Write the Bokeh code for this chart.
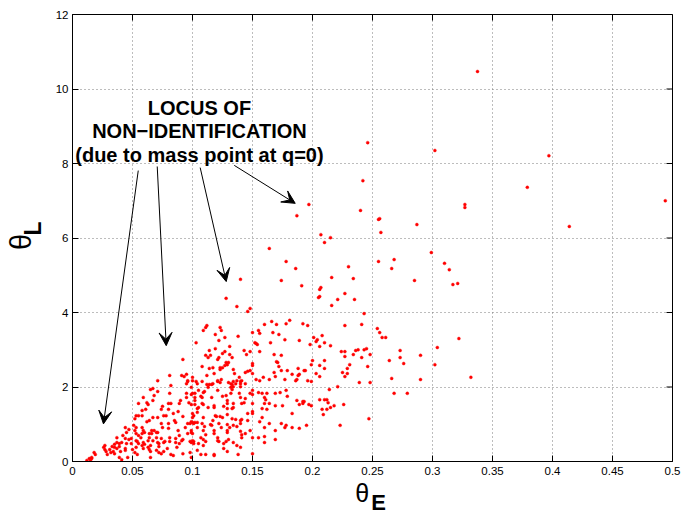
import math
from bokeh.plotting import figure
from bokeh.models import Range1d, FixedTicker, Label, Arrow, VeeHead, LinearAxis
from bokeh.embed import file_html
from bokeh.resources import INLINE

# ---- data ----
theta_e = [
    0.3375, 0.246, 0.302, 0.397, 0.379, 0.414, 0.494, 0.187, 0.164,
    0.242, 0.197, 0.240, 0.255, 0.256, 0.287, 0.327, 0.327, 0.257, 0.207,
    0.215, 0.210, 0.299, 0.255, 0.268, 0.266, 0.310, 0.314, 0.230, 0.317,
    0.321, 0.285, 0.216, 0.234, 0.191, 0.207, 0.206, 0.206, 0.205, 0.227,
    0.221, 0.235, 0.216, 0.243, 0.192, 0.196, 0.227, 0.241, 0.254, 0.256,
    0.258, 0.261, 0.322, 0.304, 0.189, 0.201, 0.204, 0.203, 0.208, 0.206,
    0.198, 0.210, 0.215, 0.224, 0.227, 0.236, 0.238, 0.243, 0.245, 0.248,
    0.241, 0.234, 0.227, 0.273, 0.273, 0.290, 0.264, 0.276, 0.302, 0.200,
    0.199, 0.210, 0.206, 0.231, 0.246, 0.229, 0.210, 0.194, 0.225, 0.229,
    0.189, 0.227, 0.206, 0.196, 0.199, 0.266, 0.290, 0.332, 0.239, 0.248,
    0.221, 0.214, 0.268, 0.279, 0.206, 0.210, 0.212, 0.192, 0.197, 0.213,
    0.226, 0.218, 0.215, 0.208, 0.212, 0.209, 0.247, 0.223, 0.195, 0.189,
    0.128, 0.137, 0.148, 0.146, 0.112, 0.111, 0.109, 0.119, 0.138, 0.150,
    0.103, 0.160, 0.155, 0.156, 0.166, 0.170, 0.178, 0.181, 0.167, 0.172,
    0.165, 0.177, 0.152, 0.154, 0.156, 0.168, 0.174, 0.131, 0.114, 0.111,
    0.115, 0.127, 0.131, 0.122, 0.121, 0.125, 0.143, 0.148, 0.145, 0.133,
    0.092, 0.108, 0.114, 0.123, 0.125, 0.127, 0.129, 0.130, 0.118, 0.134,
    0.135, 0.150, 0.144, 0.146, 0.150, 0.170, 0.171, 0.172, 0.168, 0.169,
    0.174, 0.179, 0.183, 0.188, 0.188, 0.193, 0.186, 0.187, 0.177, 0.164,
    0.159, 0.153, 0.156, 0.139, 0.137, 0.134, 0.132, 0.140, 0.124, 0.121,
    0.108, 0.117, 0.114, 0.100, 0.095, 0.096, 0.091, 0.081, 0.203,
    0.018, 0.019, 0.016, 0.016, 0.014, 0.026, 0.027, 0.028, 0.029, 0.031,
    0.033, 0.034, 0.035, 0.035, 0.037, 0.039, 0.039, 0.041, 0.037, 0.042,
    0.044, 0.040, 0.039, 0.041, 0.044, 0.044, 0.045, 0.047, 0.049, 0.045,
    0.050, 0.049, 0.052, 0.053, 0.051, 0.054, 0.055, 0.057, 0.058, 0.059,
    0.059, 0.058, 0.061, 0.058, 0.063, 0.067, 0.064, 0.066, 0.066, 0.063,
    0.068, 0.070, 0.067, 0.065, 0.070, 0.071, 0.065, 0.072, 0.071, 0.074,
    0.075, 0.074, 0.076, 0.079, 0.078, 0.080, 0.080, 0.080, 0.081, 0.084,
    0.085, 0.086, 0.086, 0.088, 0.088, 0.089, 0.091, 0.094, 0.096, 0.092,
    0.082, 0.089, 0.090, 0.095, 0.097, 0.099, 0.092, 0.098, 0.099, 0.098,
    0.096, 0.095, 0.082, 0.071, 0.068, 0.062, 0.058, 0.055, 0.052, 0.053,
    0.047, 0.055, 0.064, 0.059, 0.063, 0.064, 0.072, 0.077, 0.081, 0.081,
    0.086, 0.070, 0.076, 0.087, 0.089, 0.084, 0.098, 0.101, 0.101, 0.100,
    0.102, 0.100, 0.099,
    0.100, 0.103, 0.112, 0.116, 0.121, 0.123, 0.133, 0.136, 0.140, 0.132,
    0.134, 0.140, 0.102, 0.105, 0.110, 0.107, 0.102, 0.116, 0.125, 0.128,
    0.132, 0.133, 0.139, 0.140, 0.099, 0.102, 0.108, 0.109, 0.104, 0.118,
    0.118, 0.126, 0.129, 0.129, 0.134, 0.133, 0.141, 0.143, 0.104, 0.100,
    0.109, 0.119, 0.120, 0.123, 0.125, 0.129, 0.133, 0.136, 0.140, 0.141,
    0.099, 0.100, 0.102, 0.104, 0.104, 0.110, 0.115, 0.116, 0.122, 0.124,
    0.129, 0.131, 0.137, 0.109, 0.111, 0.100, 0.118, 0.118, 0.129, 0.140,
    0.141, 0.144, 0.109, 0.111, 0.121, 0.122, 0.128, 0.134, 0.099, 0.101,
    0.105, 0.104, 0.126, 0.129, 0.137, 0.140, 0.111, 0.118, 0.138, 0.150,
    0.150, 0.150, 0.150, 0.148, 0.150, 0.155, 0.158, 0.160, 0.162, 0.169,
    0.173, 0.178, 0.179, 0.187, 0.192, 0.193, 0.199, 0.160, 0.164, 0.161,
    0.169, 0.162, 0.158, 0.175, 0.183, 0.158, 0.156, 0.164, 0.160, 0.169,
    0.155, 0.160, 0.169, 0.178, 0.183, 0.189,
    0.178, 0.186, 0.174, 0.140, 0.160, 0.174, 0.177,
    0.071, 0.067, 0.065, 0.059, 0.055, 0.053, 0.044, 0.027, 0.093, 0.104,
    0.109, 0.108, 0.095, 0.082, 0.080, 0.074, 0.076, 0.067, 0.062, 0.058,
    0.060, 0.071, 0.075, 0.064, 0.072, 0.060, 0.053, 0.053, 0.052, 0.035,
    0.037, 0.032, 0.046, 0.054, 0.065, 0.074, 0.099, 0.107, 0.118, 0.126,
    0.130, 0.150, 0.148, 0.146, 0.146, 0.144, 0.150, 0.141, 0.144, 0.148,
    0.150, 0.153, 0.128, 0.123, 0.117, 0.112, 0.127, 0.122, 0.123, 0.124,
    0.119, 0.113, 0.113, 0.121, 0.130, 0.129, 0.134, 0.113, 0.105, 0.101,
    0.108, 0.117, 0.096, 0.099, 0.092, 0.100, 0.107, 0.109, 0.121, 0.129,
    0.134, 0.140, 0.141, 0.012, 0.015,
]
theta_l = [
    10.47, 8.56, 8.35, 8.21, 7.36, 6.31, 7.00, 6.60, 5.72,
    7.54, 6.90, 6.74, 6.50, 6.52, 6.36, 6.90, 6.82, 6.15, 6.09,
    6.01, 5.88, 5.61, 5.37, 5.42, 5.18, 5.32, 5.15, 5.23, 4.75,
    4.78, 4.86, 4.94, 4.91, 4.72, 4.67, 4.62, 4.43, 4.40, 4.51,
    4.35, 4.35, 4.19, 3.97, 3.70, 3.65, 3.65, 3.68, 3.57, 3.46,
    3.33, 3.33, 3.30, 3.06, 3.25, 3.33, 3.27, 3.22, 3.38, 3.09,
    3.14, 3.19, 3.11, 2.95, 2.95, 2.98, 3.00, 3.00, 3.03, 2.87,
    2.79, 2.87, 2.82, 2.98, 2.79, 2.85, 2.71, 2.63, 2.60, 2.71,
    2.60, 2.71, 2.58, 2.60, 2.55, 2.50, 2.50, 2.44, 2.39, 2.36,
    2.34, 2.28, 2.28, 2.17, 2.15, 2.23, 2.20, 2.26, 2.12, 2.12,
    2.01, 1.93, 1.83, 1.83, 1.66, 1.66, 1.66, 1.61, 1.53, 1.58,
    1.53, 1.50, 1.45, 1.40, 1.40, 1.26, 1.15, 0.97, 0.97, 1.53,
    4.38, 4.16, 4.11, 4.03, 3.65, 3.60, 3.52, 3.41, 3.36, 3.46,
    3.19, 3.68, 3.52, 3.44, 3.76, 3.68, 3.70, 3.79, 3.46, 3.41,
    3.19, 3.27, 3.19, 3.14, 2.95, 2.87, 2.85, 3.09, 2.98, 2.85,
    2.85, 2.95, 2.87, 2.79, 2.74, 2.90, 2.98, 2.95, 2.87, 2.79,
    2.74, 2.55, 2.50, 2.47, 2.52, 2.58, 2.60, 2.66, 2.36, 2.47,
    2.36, 2.58, 2.39, 2.42, 2.36, 2.68, 2.66, 2.55, 2.39, 2.28,
    2.44, 2.44, 2.34, 2.31, 2.50, 2.44, 2.17, 2.20, 2.20, 2.20,
    2.26, 2.20, 2.17, 2.26, 2.17, 2.15, 2.09, 2.15, 2.20, 2.17,
    2.15, 2.09, 2.07, 2.26, 2.34, 2.17, 2.31, 2.31, 2.36,
    0.24, 0.19, 0.11, 0.08, 0.08, 0.38, 0.32, 0.27, 0.19, 0.32,
    0.40, 0.27, 0.21, 0.46, 0.51, 0.48, 0.40, 0.51, 0.64, 0.70,
    0.62, 0.27, 0.11, 0.05, 0.35, 0.30, 0.48, 0.59, 0.48, 0.78,
    0.32, 0.62, 0.83, 0.75, 0.97, 0.54, 0.48, 0.64, 0.43, 0.83,
    0.35, 0.91, 1.40, 1.23, 1.53, 1.64, 1.10, 0.83, 0.75, 0.56,
    0.83, 0.78, 0.56, 0.43, 0.64, 0.51, 0.27, 0.24, 1.18, 1.02,
    1.48, 0.62, 0.51, 0.35, 1.23, 1.02, 1.56, 0.89, 1.83, 1.29,
    1.10, 1.05, 0.51, 1.34, 0.83, 0.70, 0.56, 0.91, 0.75, 0.21,
    0.19, 1.56, 1.64, 1.72, 1.58, 1.80, 1.21, 1.02, 0.83, 0.54,
    2.15, 2.09, 2.04, 1.88, 1.77, 1.58, 1.37, 1.23, 1.15, 0.91,
    0.86, 0.70, 0.75, 0.51, 0.38, 0.32, 0.40, 0.54, 0.64, 0.54,
    0.62, 0.30, 0.27, 0.38, 0.48, 0.16, 0.24, 0.54, 1.02, 1.29,
    1.64, 1.83, 1.99,
    2.17, 2.15, 2.07, 2.07, 2.15, 2.12, 2.07, 2.09, 2.09, 1.99,
    2.01, 2.01, 1.83, 1.91, 1.88, 1.75, 1.72, 1.72, 1.75, 1.77,
    1.83, 1.93, 1.83, 1.72, 1.53, 1.53, 1.56, 1.53, 1.42, 1.50,
    1.45, 1.48, 1.56, 1.42, 1.56, 1.42, 1.56, 1.58, 1.32, 1.18,
    1.18, 1.23, 1.21, 1.21, 1.18, 1.26, 1.15, 1.13, 1.10, 1.13,
    1.07, 1.05, 1.05, 1.05, 0.91, 0.94, 0.99, 0.97, 1.02, 0.91,
    0.99, 0.91, 0.94, 0.83, 0.72, 0.75, 0.83, 0.75, 0.78, 0.81,
    0.72, 0.75, 0.59, 0.54, 0.56, 0.54, 0.54, 0.51, 0.51, 0.48,
    0.48, 0.30, 0.35, 0.27, 0.43, 0.38, 0.19, 0.19, 0.19, 0.21,
    1.29, 1.34, 1.56, 1.83, 1.80, 1.85, 1.83, 1.72, 1.83, 1.83,
    1.85, 1.91, 1.75, 1.64, 1.56, 1.61, 1.50, 1.56, 1.56, 1.66,
    1.50, 1.40, 1.42, 1.50, 1.29, 1.18, 1.07, 1.02, 0.91, 0.83,
    0.64, 0.51, 0.59, 0.97, 0.91, 0.89,
    5.37, 5.18, 4.86, 4.89, 0.67, 1.02, 0.91,
    2.17, 1.96, 1.93, 1.72, 1.56, 1.23, 0.91, 0.43, 2.28, 2.09,
    1.85, 1.72, 1.83, 1.56, 1.40, 1.40, 1.23, 1.18, 1.07, 0.75,
    0.78, 0.78, 0.91, 0.64, 0.48, 0.46, 0.56, 0.38, 0.24, 0.38,
    0.35, 0.24, 0.11, 0.19, 0.11, 0.21, 0.11, 0.19, 0.16, 0.48,
    0.59, 0.64, 0.83, 1.10, 1.29, 1.69, 1.91, 2.17, 2.09, 2.44,
    2.63, 3.17, 2.66, 2.52, 2.52, 2.31, 3.33, 3.25, 3.60, 3.52,
    3.03, 2.79, 1.99, 1.91, 2.12, 1.64, 1.45, 1.45, 1.45, 1.23,
    1.02, 1.10, 1.02, 0.78, 0.59, 0.56, 0.64, 0.43, 0.64, 0.83,
    0.97, 1.02, 0.64, 0.03, 0.02,
]

x_ticks = [0, 0.05, 0.1, 0.15, 0.2, 0.25, 0.3, 0.35, 0.4, 0.45, 0.5]
x_tick_labels = ["0", "0.05", "0.1", "0.15", "0.2", "0.25", "0.3", "0.35", "0.4", "0.45", "0.5"]
y_ticks = [0, 2, 4, 6, 8, 10, 12]
y_tick_labels = ["0", "2", "4", "6", "8", "10", "12"]

note_lines = ["LOCUS OF", "NON\u2212IDENTIFICATION", "(due to mass point at q=0)"]
note_x = 0.1058
note_y = [9.48, 8.86, 8.24]

arrow_x0 = [0.0548, 0.0706, 0.1064, 0.1348]
arrow_y0 = [7.81, 7.92, 7.89, 7.95]
arrow_x1 = [0.0258, 0.0781, 0.1281, 0.1856]
arrow_y1 = [1.01, 3.11, 4.83, 6.93]

NB = "\u00a0"
x_label_main, x_label_sub = "\u03b8" + NB * 3, NB * 2 + "E"
y_label_main, y_label_sub = "\u03b8" + NB, NB * 3 + "L"

FONT = "Liberation Sans"

p = figure(width=683, height=517,
           x_range=Range1d(0, 0.5), y_range=Range1d(0, 12),
           output_backend="svg", toolbar_location=None,
           min_border_left=72, min_border_right=11,
           min_border_top=14, min_border_bottom=56)
p.background_fill_color = "white"
p.border_fill_color = "white"
p.outline_line_color = "black"
p.outline_line_width = 1
p.outline_line_alpha = 1.0

# main axes
xa, ya = p.xaxis[0], p.yaxis[0]
xa.ticker = FixedTicker(ticks=x_ticks)
ya.ticker = FixedTicker(ticks=y_ticks)
xa.major_label_overrides = {t: s for t, s in zip(x_ticks, x_tick_labels)}
ya.major_label_overrides = {t: s for t, s in zip(y_ticks, y_tick_labels)}
for ax in (xa, ya):
    ax.axis_line_color = "black"
    ax.major_tick_line_color = "black"
    ax.major_tick_in = 6
    ax.major_tick_out = 0
    ax.minor_tick_line_color = None
    ax.major_label_text_font = FONT
    ax.major_label_text_font_size = "11.5px"
    ax.major_label_text_color = "black"
    ax.axis_label_text_font = FONT
    ax.axis_label_text_color = "black"
xa.major_label_standoff = 5
ya.major_label_standoff = 4

# x label: theta (main axis) + bold E (extra label-only axis)
xa.axis_label = x_label_main
xa.axis_label_text_font_size = "25px"
xa.axis_label_text_font_style = "normal"
xa.axis_label_standoff = 1
# y label: bold L (main axis) + theta (extra label-only axis)
ya.axis_label = y_label_sub
ya.axis_label_text_font_size = "23px"
ya.axis_label_text_font_style = "bold"
ya.axis_label_standoff = 7


def label_axis(text, size, style, standoff):
    return LinearAxis(ticker=FixedTicker(ticks=[]), axis_line_color=None,
                      major_tick_line_color=None, minor_tick_line_color=None,
                      major_tick_in=0, major_tick_out=0, major_label_standoff=0,
                      axis_label=text, axis_label_text_font=FONT,
                      axis_label_text_font_size=size, axis_label_text_font_style=style,
                      axis_label_text_color="black", axis_label_standoff=standoff)


p.add_layout(label_axis(x_label_sub, "22px", "bold", -20), "below")
p.add_layout(label_axis(y_label_main, "29px", "normal", -20), "left")

# grid (MATLAB-like dotted)
for g in (p.xgrid[0], p.ygrid[0]):
    g.grid_line_color = "#7a7a7a"
    g.grid_line_dash = "1 3"
    g.grid_line_width = 1

# inward ticks on top and right sides of the box
p.scatter(x_ticks, [12] * len(x_ticks), marker="dash", size=12, angle=math.pi / 2,
          line_color="black", line_width=1)
p.scatter([0.5] * len(y_ticks), y_ticks, marker="dash", size=12, angle=0,
          line_color="black", line_width=1)

# data
p.scatter(theta_e, theta_l, marker="circle", size=3.0,
          fill_color="red", line_color="red", line_width=0.4)

# annotation text
for txt, yy in zip(note_lines, note_y):
    p.add_layout(Label(x=note_x, y=yy, text=txt, text_font=FONT,
                       text_font_style="bold", text_font_size="20px",
                       text_align="center", text_baseline="middle",
                       text_color="black"))

# arrows
for xs0, ys0, xs1, ys1 in zip(arrow_x0, arrow_y0, arrow_x1, arrow_y1):
    p.add_layout(Arrow(end=VeeHead(size=13, fill_color="black", line_color="black", line_width=1),
                       x_start=xs0, y_start=ys0, x_end=xs1, y_end=ys1,
                       line_color="black", line_width=1))

open("out.html", "w").write(file_html(p, INLINE))
